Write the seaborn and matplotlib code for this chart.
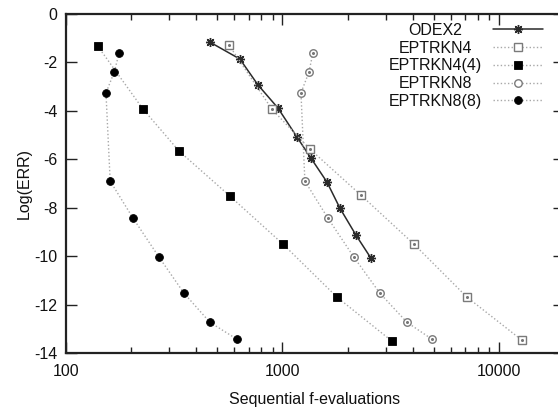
import numpy as np
import pandas as pd
import matplotlib
matplotlib.use("Agg")
import matplotlib.pyplot as plt
import seaborn as sns
from matplotlib.offsetbox import VPacker, DrawingArea

# values
odex2_x = [462, 636, 771, 953, 1167, 1354, 1606, 1844, 2186, 2563]
odex2_y = [-1.16, -1.86, -2.93, -3.88, -5.08, -5.95, -6.94, -8.02, -9.13, -10.08]

eptrkn4_x = [566, 894, 1340, 2305, 4048, 7118, 12770]
eptrkn4_y = [-1.28, -3.93, -5.58, -7.48, -9.50, -11.69, -13.47]

eptrkn44_x = [140, 227, 333, 572, 1005, 1786, 3205]
eptrkn44_y = [-1.32, -3.93, -5.66, -7.52, -9.50, -11.69, -13.51]

eptrkn8_x = [1383, 1326, 1218, 1270, 1622, 2139, 2820, 3759, 4906]
eptrkn8_y = [-1.61, -2.40, -3.26, -6.90, -8.43, -10.04, -11.53, -12.73, -13.43]

eptrkn88_x = [176, 167, 153, 160, 204, 269, 351, 462, 616]
eptrkn88_y = [-1.61, -2.40, -3.26, -6.90, -8.43, -10.04, -11.53, -12.73, -13.43]

sns.set_style("ticks")
plt.rcParams['font.family'] = ['Liberation Sans', 'DejaVu Sans']
plt.rcParams['axes.unicode_minus'] = False

fig = plt.figure(figsize=(5.58, 4.12), dpi=100)
# axes run past the right edge like the cropped original
ax = fig.add_axes([66 / 558, 59 / 412, 498 / 558, 339 / 412])

dots = (0, (1, 1.6))
grey_line = "#a8a8a8"

sns.lineplot(x=odex2_x, y=odex2_y, sort=False, estimator=None, ax=ax,
             label="ODEX2", color="#2a2a2a", linewidth=1.1,
             marker=(8, 2, 0), markersize=6.5, markeredgewidth=1.0,
             markeredgecolor="#2a2a2a")
sns.lineplot(x=eptrkn4_x, y=eptrkn4_y, sort=False, estimator=None, ax=ax,
             label="EPTRKN4", color=grey_line, linewidth=1.0, linestyle=dots,
             marker="s", markersize=5.2, markerfacecolor="white",
             markeredgecolor="#7a7a7a", markeredgewidth=1.0)
sns.lineplot(x=eptrkn44_x, y=eptrkn44_y, sort=False, estimator=None, ax=ax,
             label="EPTRKN4(4)", color=grey_line, linewidth=1.0, linestyle=dots,
             marker="s", markersize=5.6, markerfacecolor="black",
             markeredgecolor="black", markeredgewidth=0.6)
sns.lineplot(x=eptrkn8_x, y=eptrkn8_y, sort=False, estimator=None, ax=ax,
             label="EPTRKN8", color=grey_line, linewidth=1.0, linestyle=dots,
             marker="o", markersize=5.4, markerfacecolor="white",
             markeredgecolor="#7a7a7a", markeredgewidth=1.0)
sns.lineplot(x=eptrkn88_x, y=eptrkn88_y, sort=False, estimator=None, ax=ax,
             label="EPTRKN8(8)", color=grey_line, linewidth=1.0, linestyle=dots,
             marker="o", markersize=5.6, markerfacecolor="black",
             markeredgecolor="black", markeredgewidth=0.6)

# small centre dots inside the open markers
for xs, ys in [(eptrkn4_x, eptrkn4_y), (eptrkn8_x, eptrkn8_y)]:
    ax.plot(xs, ys, linestyle="none", marker="o", markersize=1.2,
            color="#777777", zorder=5)

ax.set_xscale("log")
ax.set_xlim(100, 20000)
ax.set_ylim(-14, 0)
ax.set_yticks(np.arange(-14, 1, 2))
ax.set_xticks([100, 1000, 10000])
ax.set_xticklabels(["100", "1000", "10000"])
ax.set_yticklabels([str(v) for v in range(-14, 1, 2)])

ax.tick_params(which="both", direction="in", top=True, right=True,
               color="#222222", labelsize=11.5, labelcolor="#111111")
ax.tick_params(which="major", length=8, width=1.0)
ax.tick_params(which="minor", length=4, width=1.0)
ax.tick_params(axis="x", which="major", pad=8)
ax.tick_params(axis="y", which="major", pad=6)
ax.yaxis.set_minor_locator(matplotlib.ticker.NullLocator())

for s in ax.spines.values():
    s.set_linewidth(1.6)
    s.set_color("#222222")

ax.set_xlabel("Sequential f-evaluations", fontsize=11.5, labelpad=9, color="#111111")
ax.set_ylabel("Log(ERR)", fontsize=11.5, labelpad=2, color="#111111")

leg = ax.legend(loc="upper right", bbox_to_anchor=((543 - 66) / 498, 1 - 9 / 339),
                bbox_transform=ax.transAxes,
                markerfirst=False, frameon=False, fontsize=11.5,
                handlelength=3.1, handletextpad=0.7, labelspacing=0.17,
                borderpad=0, borderaxespad=0)
for t in leg.get_texts():
    t.set_color("#111111")

# centre the legend labels in a common column, like the original
fig.canvas.draw()
renderer = fig.canvas.get_renderer()
widths = [t.get_window_extent(renderer).width * 72 / fig.dpi for t in leg.get_texts()]
maxw = max(widths)
for column in leg._legend_handle_box.get_children():
    for entry in column.get_children():
        kids = entry.get_children()
        text_box = kids[0]
        kids[0] = VPacker(children=[text_box, DrawingArea(maxw, 0)],
                          align="center", pad=0, sep=0)
        kids[0].set_figure(fig)

fig.savefig("out.png", dpi=100)
